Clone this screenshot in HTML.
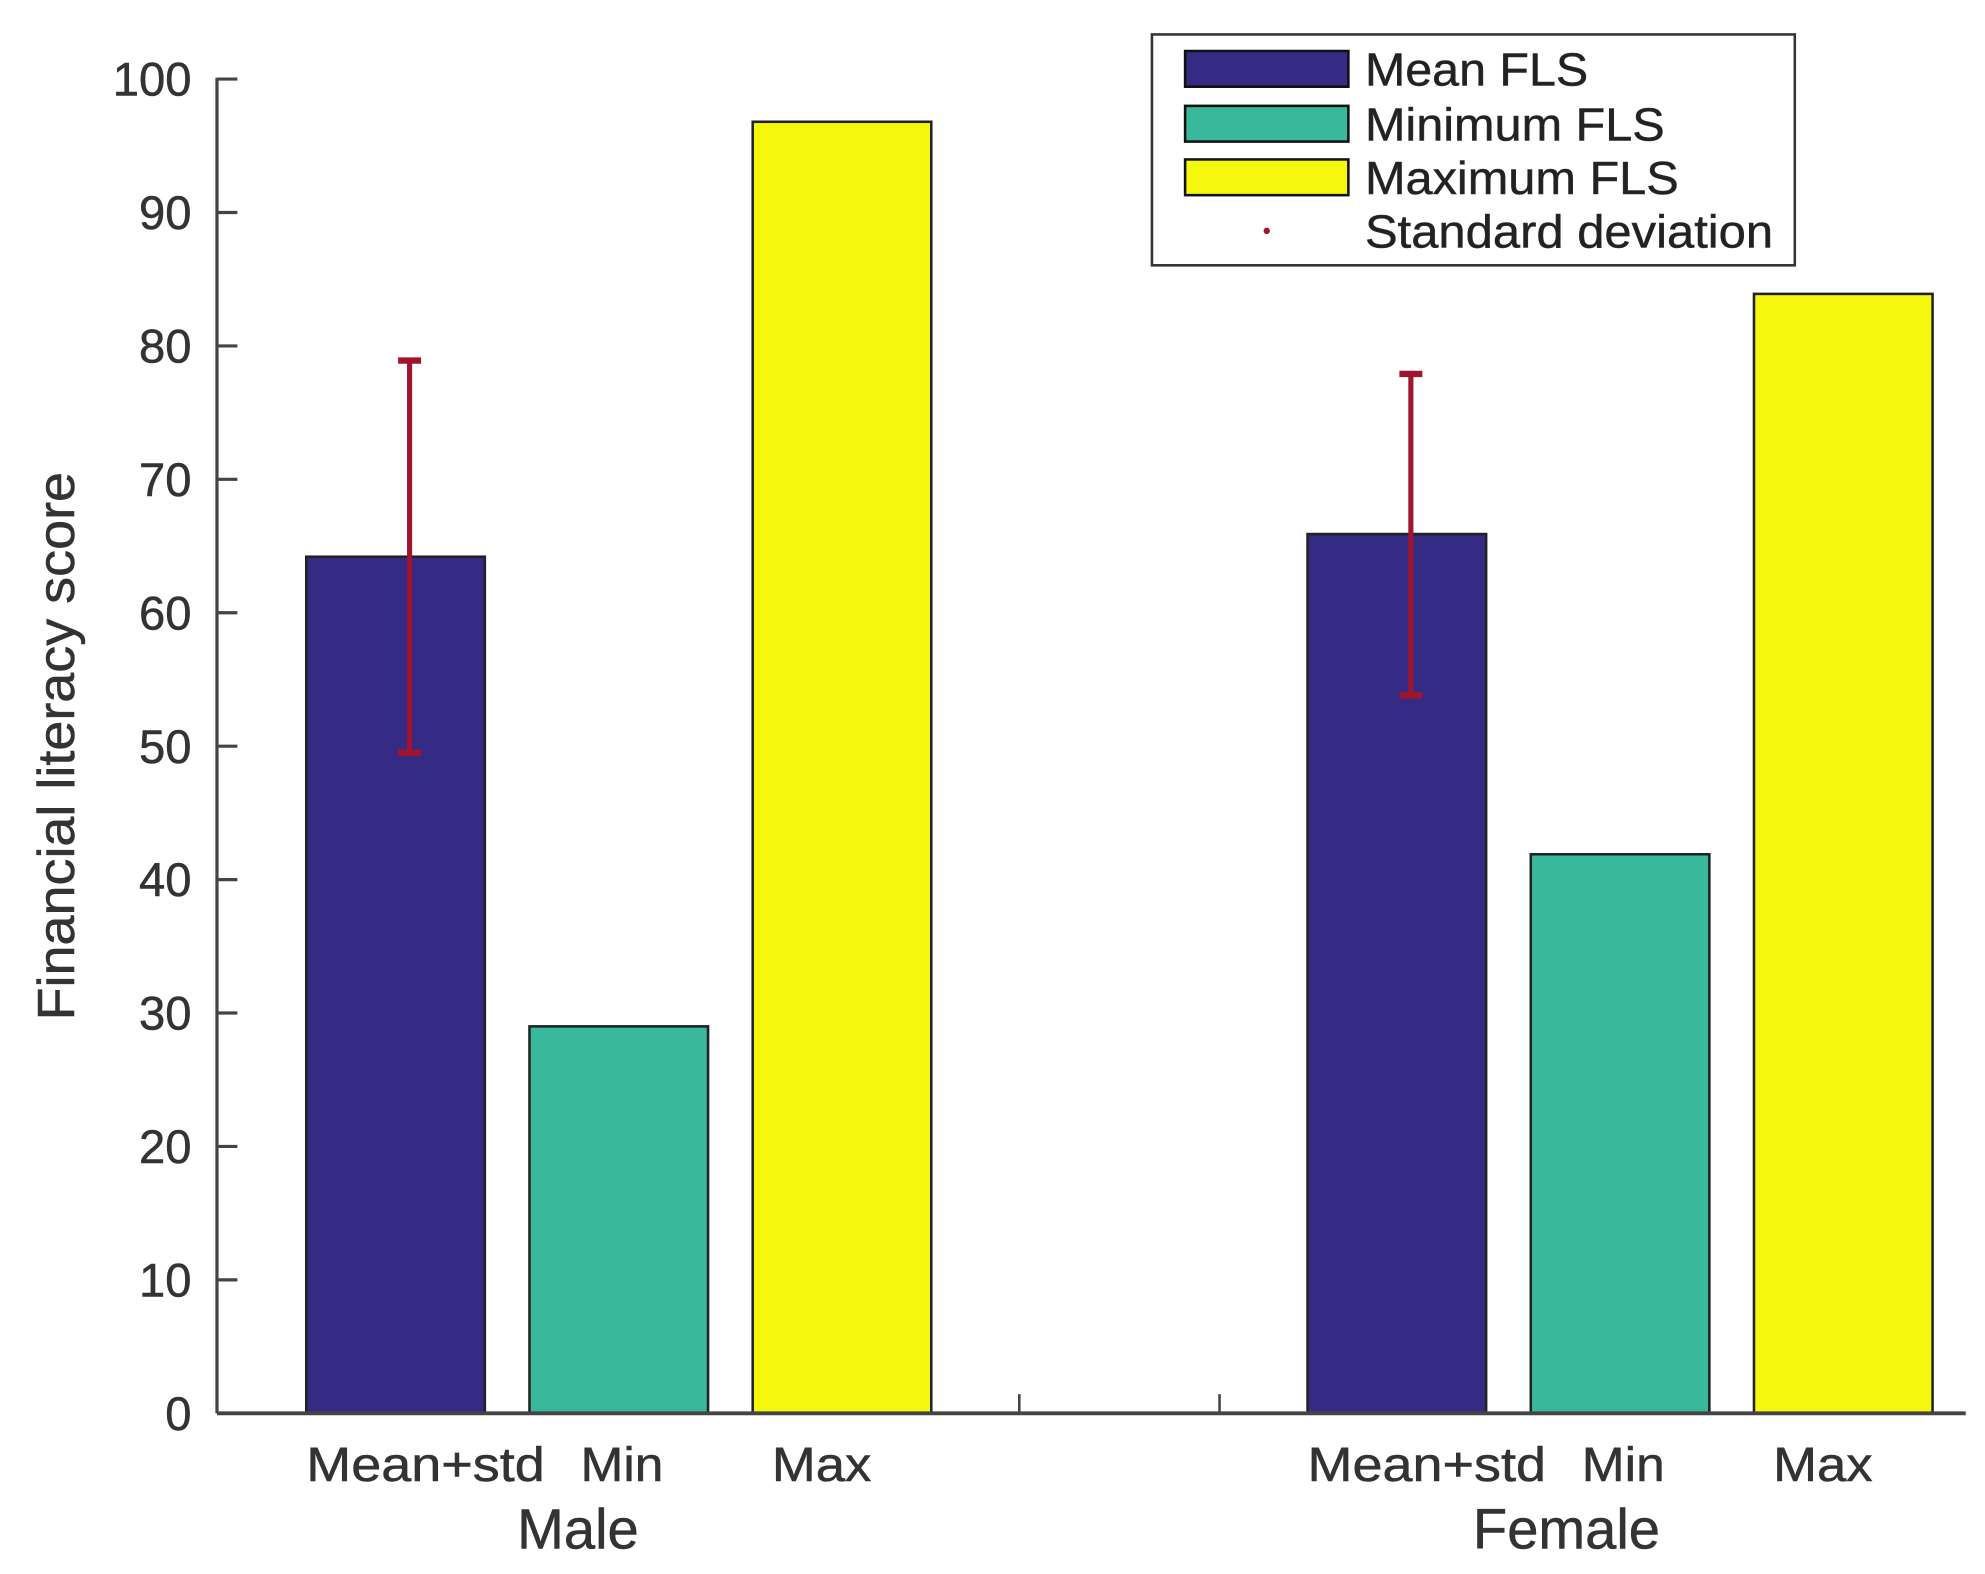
<!DOCTYPE html>
<html><head><meta charset="utf-8"><style>
html,body{margin:0;padding:0;background:#fff;}
svg{display:block;font-family:"Liberation Sans",Arial,sans-serif;}
text{stroke:#333;stroke-width:0.4;}
</style></head><body>
<svg id="chart" width="1985" height="1574" viewBox="0 0 1556 1234" xmlns="http://www.w3.org/2000/svg">
<g id="bars"></g>
<g id="errs"></g>
<g id="axis"></g>
<g id="xlabels"></g>
<text transform="translate(58,585) rotate(-90)" text-anchor="middle" font-size="41" fill="#333" textLength="430" lengthAdjust="spacingAndGlyphs">Financial literacy score</text>
<g>
<rect x="903" y="27" width="504" height="181" fill="#fff" stroke="#333" stroke-width="2"/>
<rect x="929" y="40" width="128" height="28" fill="#352a84" stroke="#111" stroke-width="2"/>
<text x="1070" y="67" font-size="36" fill="#222" textLength="175" lengthAdjust="spacingAndGlyphs">Mean FLS</text>
<rect x="929" y="83" width="128" height="28" fill="#38b99c" stroke="#111" stroke-width="2"/>
<text x="1070" y="110" font-size="36" fill="#222" textLength="235" lengthAdjust="spacingAndGlyphs">Minimum FLS</text>
<rect x="929" y="125" width="128" height="28" fill="#f5f70c" stroke="#111" stroke-width="2"/>
<text x="1070" y="152" font-size="36" fill="#222" textLength="246" lengthAdjust="spacingAndGlyphs">Maximum FLS</text>
<circle cx="993" cy="181" r="2.5" fill="#a0152e"/>
<text x="1070" y="194" font-size="36" fill="#222" textLength="320" lengthAdjust="spacingAndGlyphs">Standard deviation</text>
</g>
</svg>
<script>
const groups = ["Male", "Female"];
const categories = ["Mean+std", "Min", "Max"];
const maleValues = [64.2, 29, 96.8];
const femaleValues = [65.9, 41.9, 83.9];
const stdLow = [49.5, 53.8];
const stdHigh = [78.9, 77.9];
const yTicks = [0, 10, 20, 30, 40, 50, 60, 70, 80, 90, 100];
const colors = ["#352a84", "#38b99c", "#f5f70c"];

const NS = "http://www.w3.org/2000/svg";
const y0 = 1108, pxPerUnit = 10.46;
function yScale(v){ return y0 - v * pxPerUnit; }
const groupStart = [240, 1025], barStep = 175, barW = 140;
function xScale(g, c){ return groupStart[g] + c * barStep; }
function mk(tag, attrs, parent){ const e=document.createElementNS(NS,tag); for(const k in attrs) e.setAttribute(k,attrs[k]); parent.appendChild(e); return e; }

const barsG = document.getElementById('bars');
const errG = document.getElementById('errs');
const axisG = document.getElementById('axis');
const xl = document.getElementById('xlabels');
const series = [maleValues, femaleValues];
const labelOffsets = [0, 40, 15];
const labelWidths = [187, 65, 78];

series.forEach((vals, g) => {
  vals.forEach((v, c) => {
    const r = mk('rect', {x: xScale(g,c), y: yScale(v), width: barW, height: y0 - yScale(v), fill: colors[c], stroke: '#222', 'stroke-width': 2}, barsG);
    
    
    const t = mk('text', {x: xScale(g,c) + labelOffsets[c], y: 1161, 'font-size': 38, fill: '#333', textLength: labelWidths[c], lengthAdjust: 'spacingAndGlyphs'}, xl);
    t.textContent = categories[c];
    
    
  });
  const gl = mk('text', {x: (g===0 ? 453 : 1228), y: 1214, 'font-size': 44, 'text-anchor': 'middle', fill: '#333'}, xl);
  gl.textContent = groups[g];
  
  
  const cx = xScale(g,0) + 81;
  const eg = mk('g', {stroke: '#a0152e', 'stroke-width': 4}, errG);
  
  
  mk('line', {x1: cx, x2: cx, y1: yScale(stdHigh[g]), y2: yScale(stdLow[g])}, eg);
  mk('line', {x1: cx-9, x2: cx+9, y1: yScale(stdHigh[g]), y2: yScale(stdHigh[g]), 'stroke-width': 5}, eg);
  mk('line', {x1: cx-9, x2: cx+9, y1: yScale(stdLow[g]), y2: yScale(stdLow[g]), 'stroke-width': 5}, eg);
});

mk('line', {x1: 170, x2: 170, y1: yScale(100) - 1, y2: y0, stroke: '#444', 'stroke-width': 2.5}, axisG);
const xa = mk('line', {x1: 170, x2: 1541, y1: y0, y2: y0, stroke: '#444', 'stroke-width': 3}, axisG);


[799, 956].forEach(x => mk('line', {x1: x, x2: x, y1: y0, y2: y0 - 15, stroke: '#444', 'stroke-width': 2}, axisG));
yTicks.forEach(v => {
  mk('line', {x1: 170, x2: 186, y1: yScale(v), y2: yScale(v), stroke: '#444', 'stroke-width': 2.5}, axisG);
  const t = mk('text', {x: 150, y: yScale(v) + 13, 'font-size': 37, 'text-anchor': 'end', fill: '#333'}, axisG);
  t.textContent = v;
  
  
});
</script>
</body></html>
